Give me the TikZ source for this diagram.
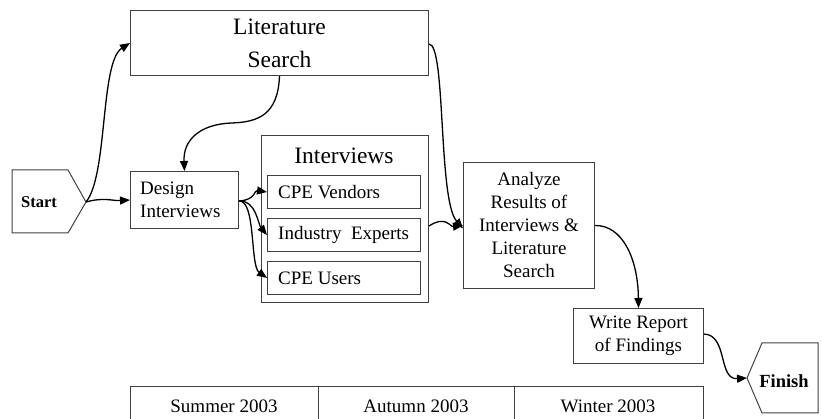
\documentclass[tikz,border=0pt]{standalone}
\usepackage{fontspec}
\setmainfont{Liberation Serif}
\usetikzlibrary{arrows.meta}
\begin{document}
\begin{tikzpicture}[x=1pt,y=-1pt,
  box/.style={draw=black!75,line width=1pt,rectangle,inner sep=0pt,anchor=north west},
  bigtxt/.style={font=\fontsize{23.5}{33}\selectfont},
  smalltxt/.style={font=\fontsize{19}{23}\selectfont},
  subbox/.style={box,minimum width=153pt,minimum height=33pt},
  subtxt/.style={smalltxt,anchor=west,inner sep=0pt},
  arr/.style={line width=1.3pt,-{Triangle[length=10pt,width=8pt]}},
  ln/.style={draw=black!75,line width=1pt}]
\useasboundingbox (0,0) rectangle (822,419);
% Start
\draw[ln] (12,170) -- (68,170) -- (86,202) -- (68,233) -- (12,233) -- cycle;
\node[font=\fontsize{16.5}{20}\selectfont\bfseries] (start) at (39,202) {Start};
\coordinate (starttip) at (86,202);
% Finish
\draw[ln] (762,343) -- (818,343) -- (818,413) -- (762,413) -- (747,378) -- cycle;
\node[font=\fontsize{18.5}{22}\selectfont\bfseries] (finish) at (784,381) {Finish};
\coordinate (finishtip) at (747,378);
% Literature Search
\node[box,bigtxt,minimum width=298pt,minimum height=65pt,align=center] (lit) at (130,10) {Literature\\Search};
% Design Interviews
\node[box,minimum width=108pt,minimum height=57pt] (design) at (130,171) {};
\node[smalltxt,anchor=west,inner sep=0pt,align=left] (designt) at ([xshift=10pt]design.west) {Design\\Interviews};
% Interviews group
\node[box,minimum width=167pt,minimum height=167pt] (intv) at (261,135) {};
\node[bigtxt] (intvtitle) at (344,156) {Interviews};
\node[subbox] (vend) at (267,175) {};
\node[subtxt] (vendt) at ([xshift=11pt]vend.west) {CPE Vendors};
\node[subbox] (expt) at (267,218) {};
\node[subtxt] (exptt) at ([xshift=11pt]expt.west) {Industry\ \ Experts};
\node[subbox] (users) at (267,261) {};
\node[subtxt] (userst) at ([xshift=11pt]users.west) {CPE Users};
% Analyze
\node[box,smalltxt,minimum width=131pt,minimum height=126pt,align=center] (anal) at (463,162) {Analyze\\Results of\\Interviews \&\\Literature\\Search};
% Write Report
\node[box,smalltxt,minimum width=130pt,minimum height=55pt,align=center] (write) at (573,308) {Write Report\\of Findings};
% Timeline
\draw[ln] (130,419) -- (130,387) -- (703,387) -- (703,419);
\draw[ln] (318,387) -- (318,419);
\draw[ln] (514,387) -- (514,419);
\node[smalltxt] (summer) at (224,406) {Summer 2003};
\node[smalltxt] (autumn) at (416,406) {Autumn 2003};
\node[smalltxt] (winter) at (608,406) {Winter 2003};
% Connectors
\draw[arr] (starttip) .. controls (108,175) and (100,62) .. (lit.west);
\draw[arr] (starttip) .. controls (104,197) and (112,201) .. (design.west);
\draw[arr] (lit.south) .. controls (278,115) and (258,122) .. (232,123) .. controls (200,124) and (183,140) .. (design.north);
\draw[arr] ([yshift=-1pt]lit.east) .. controls (446,44) and (438,200) .. ([yshift=-3pt]anal.west);
\draw[arr] ([yshift=-7pt]intv.east) .. controls (446,215) and (450,227) .. (anal.west);
\draw[arr] ([yshift=-1pt]design.east) .. controls (256,200) and (254,190) .. (vend.west);
\draw[arr] ([yshift=-1pt]design.east) .. controls (256,200) and (258,224) .. (expt.west);
\draw[arr] ([yshift=-1pt]design.east) .. controls (256,200) and (250,266) .. (users.west);
\draw[arr] (anal.east) .. controls (622,225) and (638,258) .. (write.north);
\draw[arr] ([yshift=2pt]write.east) .. controls (728,335) and (718,380) .. (finishtip);
\end{tikzpicture}
\end{document}
